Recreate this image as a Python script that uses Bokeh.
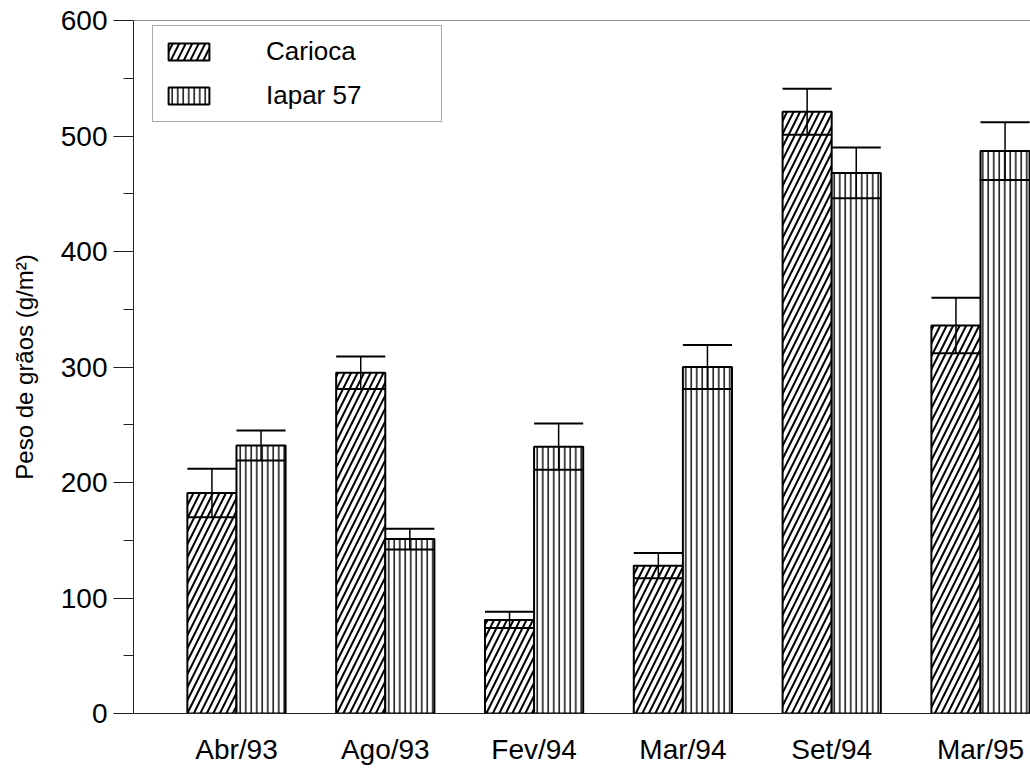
import numpy as np
from bokeh.plotting import figure
from bokeh.models import Range1d, Legend, LegendItem, Span, FixedTicker, ColumnDataSource
from bokeh.embed import file_html
from bokeh.resources import INLINE

categories = ["Abr/93", "Ago/93", "Fev/94", "Mar/94", "Set/94", "Mar/95"]
carioca = [191, 295, 81, 128, 521, 336]
carioca_se = [21, 14, 7, 11, 20, 24]
iapar = [232, 151, 231, 300, 468, 487]
iapar_se = [13, 9, 20, 19, 22, 25]
y_ticks = [0, 100, 200, 300, 400, 500, 600]

FONT = "Liberation Sans"
BW = 0.33

idx = np.arange(len(categories))

p = figure(width=1030, height=771, output_backend="svg", toolbar_location=None,
           x_range=Range1d(-0.692, 5.336), y_range=Range1d(0, 600),
           min_border_left=133, min_border_right=0, min_border_top=20, min_border_bottom=58)
p.outline_line_color = None
p.grid.visible = False
p.background_fill_color = "white"
p.border_fill_color = "white"


def series(vals, ses, offset, pattern, scale, weight):
    x = idx + offset
    v = np.array(vals, dtype=float)
    s = np.array(ses, dtype=float)
    src = ColumnDataSource(dict(x=x, top=v, lo=v - s, hi=v + s,
                                x0=x - BW / 2, x1=x + BW / 2))
    r = p.vbar(x="x", top="top", width=BW, bottom=0, source=src,
               fill_color="white", line_color="black", line_width=2,
               hatch_pattern=pattern, hatch_color="black",
               hatch_scale=scale, hatch_weight=weight)
    p.segment(x0="x", x1="x", y0="lo", y1="hi", source=src, line_color="black", line_width=1.5)
    p.segment(x0="x0", x1="x1", y0="hi", y1="hi", source=src, line_color="black", line_width=2)
    p.segment(x0="x0", x1="x1", y0="lo", y1="lo", source=src, line_color="black", line_width=2)
    return r


rc = series(carioca, carioca_se, -BW / 2, "/", 13, 2)
ri = series(iapar, iapar_se, BW / 2, "|", 5.5, 1.4)

p.add_layout(Span(location=600, dimension="width", line_color="#222222", line_width=1))

# axes
p.xaxis.ticker = FixedTicker(ticks=list(idx))
p.xaxis.major_label_overrides = {int(i): c for i, c in zip(idx, categories)}
p.xaxis.major_tick_line_color = None
p.xaxis.minor_tick_line_color = None
p.xaxis.major_label_standoff = 14
p.xaxis.major_label_text_font = FONT
p.xaxis.major_label_text_font_size = "28px"
p.xaxis.major_label_text_color = "black"
p.xaxis.axis_line_color = "#222222"
p.xaxis.axis_line_width = 1

p.yaxis.ticker = FixedTicker(ticks=y_ticks, minor_ticks=[50, 150, 250, 350, 450, 550])
p.yaxis.major_tick_out = 20
p.yaxis.major_tick_in = 0
p.yaxis.minor_tick_out = 10
p.yaxis.minor_tick_in = 0
p.yaxis.major_tick_line_color = "#222222"
p.yaxis.minor_tick_line_color = "#222222"
p.yaxis.axis_line_color = "#222222"
p.yaxis.major_label_standoff = 6
p.yaxis.major_label_text_font = FONT
p.yaxis.major_label_text_font_size = "28px"
p.yaxis.major_label_text_color = "black"
p.yaxis.axis_label = "Peso de grãos (g/m²)"
p.yaxis.axis_label_text_font = FONT
p.yaxis.axis_label_text_font_size = "24px"
p.yaxis.axis_label_text_font_style = "normal"
p.yaxis.axis_label_text_color = "black"
p.yaxis.axis_label_standoff = 20

legend = Legend(items=[LegendItem(label="Carioca", renderers=[rc]),
                       LegendItem(label="Iapar 57", renderers=[ri])],
                location=(19, 591), orientation="vertical",
                border_line_color="#555555", border_line_width=1,
                background_fill_color="white", background_fill_alpha=1,
                label_text_font=FONT, label_text_font_size="26px",
                label_text_color="black",
                glyph_width=51, glyph_height=21, label_height=30,
                spacing=13, padding=10, label_standoff=52, label_width=165,
                margin=0)
p.add_layout(legend)

open("out.html", "w").write(file_html(p, INLINE))
